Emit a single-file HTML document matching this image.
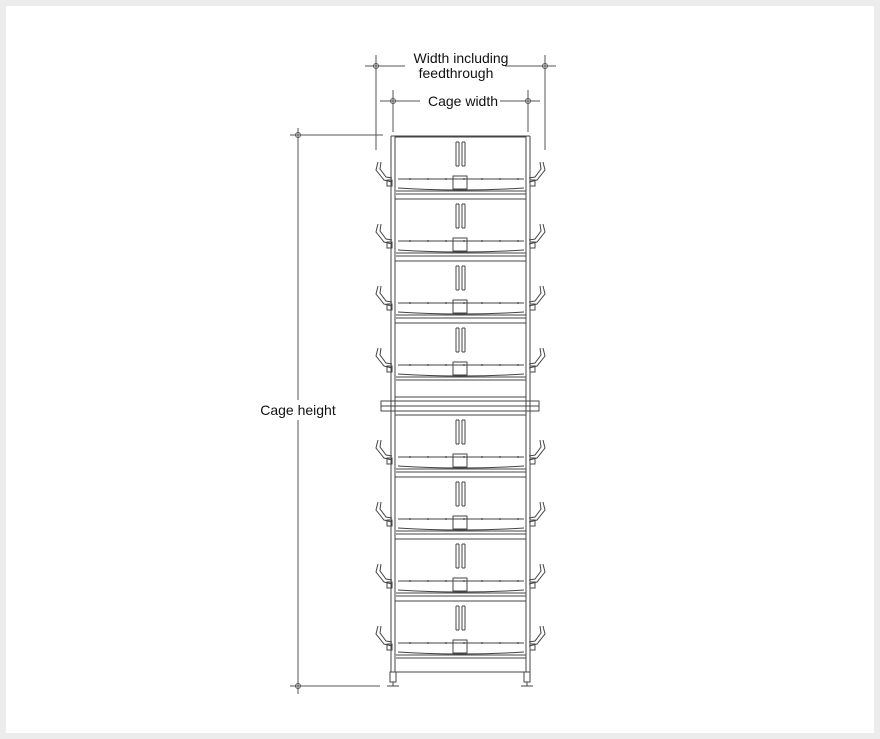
<!DOCTYPE html>
<html><head><meta charset="utf-8"><style>
html,body{margin:0;padding:0;background:#ececec;}
#wrap{position:absolute;left:6px;top:6px;width:868px;height:727px;background:#fff;}
svg{position:absolute;left:0;top:0;}
text{font-family:"Liberation Sans",sans-serif;font-size:14px;fill:#111;}
</style></head><body>
<div id="wrap"></div>
<svg id="s" width="880" height="739" viewBox="0 0 880 739">
<g stroke="#555" stroke-width="1" fill="none" id="dims">
<line x1="365" y1="66" x2="405" y2="66"/><line x1="505" y1="66" x2="556" y2="66"/>
<line x1="376" y1="55" x2="376" y2="150"/><line x1="545" y1="55" x2="545" y2="150"/>
<line x1="380" y1="101" x2="420" y2="101"/><line x1="500" y1="101" x2="540" y2="101"/>
<line x1="393" y1="90" x2="393" y2="132"/><line x1="528" y1="90" x2="528" y2="132"/>
<line x1="298" y1="128" x2="298" y2="694"/>
<line x1="290" y1="135" x2="383" y2="135"/><line x1="290" y1="686" x2="380" y2="686"/>
<circle cx="376" cy="66" r="2.5"/><circle cx="545" cy="66" r="2.5"/>
<circle cx="393" cy="101" r="2.5"/><circle cx="528" cy="101" r="2.5"/>
<circle cx="298" cy="135" r="2.5"/><circle cx="298" cy="686" r="2.5"/>
</g>
<g id="cage" stroke="#444" stroke-width="1" fill="none"></g>
<rect x="255" y="400" width="86" height="20" fill="#fff"/>
<text x="461" y="63" text-anchor="middle">Width including</text>
<text x="456" y="78" text-anchor="middle">feedthrough</text>
<text x="463" y="106" text-anchor="middle">Cage width</text>
<text x="298" y="415" text-anchor="middle">Cage height</text>
</svg>
<script>
var g=document.getElementById('cage'),h='';
function L(a,b,c,d){h+='<line x1="'+a+'" y1="'+b+'" x2="'+c+'" y2="'+d+'"/>';}
// posts
L(391,136,391,672);L(395,136,395,672);L(526,136,526,672);L(530,136,530,672);
L(391,136,530,136);
var tops=[136,198,260,322,414,476,538,600];
tops.forEach(function(t){
 L(395,t+1,526,t+1);
 L(456,t+6,456,t+30);L(459,t+6,459,t+30);L(456,t+6,459,t+6);L(456,t+30,459,t+30);
 L(462,t+6,462,t+30);L(465,t+6,465,t+30);L(462,t+6,465,t+6);L(462,t+30,465,t+30);
 L(398,t+43,524,t+43);
 for(var x=410;x<520;x+=18)L(x,t+42,x,t+44);
 h+='<rect x="453" y="'+(t+40)+'" width="14" height="13"/>';
 h+='<path d="M398 '+(t+52)+' Q460 '+(t+56)+' 524 '+(t+52)+'"/>';
 L(396,t+55,526,t+55);L(396,t+58,526,t+58);
 // feeder hooks
 h+='<path d="M378 '+(t+26)+' L376 '+(t+34)+' L384 '+(t+44)+' L392 '+(t+46)+' M381 '+(t+26)+' L380 '+(t+33)+' L386 '+(t+41)+' L392 '+(t+42)+'"/>';
 h+='<path d="M543 '+(t+26)+' L545 '+(t+34)+' L537 '+(t+44)+' L529 '+(t+46)+' M540 '+(t+26)+' L541 '+(t+33)+' L535 '+(t+41)+' L529 '+(t+42)+'"/>';
 h+='<rect x="387" y="'+(t+44)+'" width="5" height="6"/><rect x="530" y="'+(t+44)+'" width="5" height="6"/>';
});
// beam
h+='<rect x="381" y="401" width="158" height="10"/>';L(381,406,539,406);
L(395,397,526,397);
// bottom
L(391,672,530,672);
h+='<rect x="390" y="672" width="6" height="10"/><rect x="524" y="672" width="6" height="10"/>';
L(387,686,399,686);L(521,686,533,686);L(393,682,393,686);L(527,682,527,686);
g.innerHTML=h;
</script>
</body></html>
